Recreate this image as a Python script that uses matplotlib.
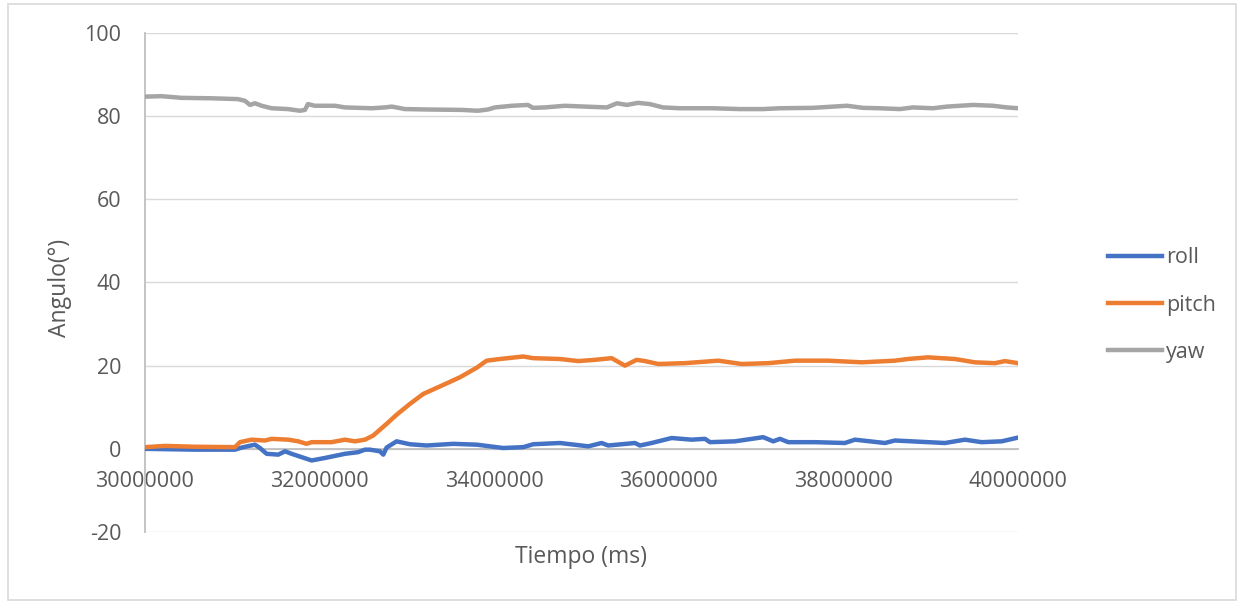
import matplotlib
matplotlib.use("Agg")
import matplotlib.pyplot as plt
from matplotlib.patches import Rectangle

plt.rcParams["font.family"] = ["Open Sans", "DejaVu Sans"]
plt.rcParams["axes.unicode_minus"] = False

# time (ms) and angle (deg)
roll_t = [30000000, 30573000, 31031000, 31108000, 31260000, 31317000, 31394000,
          31527000, 31604000, 31680000, 31795000, 31909000, 32062000, 32291000,
          32443000, 32520000, 32577000, 32692000, 32730000, 32768000, 32883000,
          33035000, 33227000, 33532000, 33800000, 34104000, 34333000, 34448000,
          34754000, 35078000, 35231000, 35307000, 35613000, 35670000, 35804000,
          36033000, 36262000, 36415000, 36472000, 36758000, 37082000, 37197000,
          37274000, 37369000, 37675000, 38018000, 38133000, 38476000, 38591000,
          38782000, 39164000, 39393000, 39584000, 39813000, 40000000]
roll = [0.0, -0.2, -0.2, 0.3, 1.0, 0.2, -1.2,
        -1.4, -0.6, -1.2, -2.0, -2.8, -2.2, -1.2,
        -0.8, -0.2, -0.2, -0.6, -1.4, 0.3, 1.8,
        1.1, 0.8, 1.2, 1.0, 0.2, 0.4, 1.1,
        1.4, 0.6, 1.4, 0.8, 1.4, 0.8, 1.4,
        2.6, 2.2, 2.4, 1.6, 1.8, 2.8, 1.8,
        2.4, 1.6, 1.6, 1.4, 2.2, 1.4, 2.0,
        1.8, 1.4, 2.2, 1.6, 1.8, 2.7]

pitch_t = [30000000, 30229000, 30573000, 31031000, 31088000, 31222000, 31375000,
           31451000, 31641000, 31756000, 31852000, 31909000, 32139000, 32291000,
           32405000, 32520000, 32615000, 32768000, 32883000, 33035000, 33188000,
           33379000, 33608000, 33800000, 33914000, 34066000, 34333000, 34448000,
           34754000, 34963000, 35155000, 35346000, 35498000, 35632000, 35727000,
           35880000, 36186000, 36567000, 36835000, 37140000, 37446000, 37824000,
           38213000, 38591000, 38740000, 38969000, 39278000, 39508000, 39737000,
           39851000, 40000000]
pitch = [0.4, 0.7, 0.5, 0.4, 1.6, 2.2, 2.0,
         2.4, 2.2, 1.8, 1.2, 1.6, 1.6, 2.2,
         1.8, 2.2, 3.2, 6.0, 8.2, 10.8, 13.2,
         15.0, 17.2, 19.5, 21.2, 21.6, 22.2, 21.8,
         21.6, 21.1, 21.4, 21.8, 20.0, 21.4, 21.1,
         20.4, 20.6, 21.2, 20.4, 20.6, 21.2, 21.2,
         20.8, 21.2, 21.6, 22.0, 21.6, 20.8, 20.6,
         21.1, 20.6]

yaw_t = [30000000, 30191000, 30420000, 30764000, 31065000, 31145000, 31203000,
         31260000, 31337000, 31451000, 31638000, 31776000, 31833000, 31867000,
         31947000, 32176000, 32291000, 32600000, 32749000, 32829000, 32978000,
         33242000, 33631000, 33814000, 33929000, 34009000, 34204000, 34387000,
         34444000, 34582000, 34811000, 35040000, 35292000, 35407000, 35521000,
         35647000, 35785000, 35934000, 36128000, 36506000, 36816000, 37079000,
         37274000, 37652000, 38041000, 38224000, 38419000, 38648000, 38797000,
         39026000, 39187000, 39485000, 39714000, 39874000, 40000000]
yaw = [84.7, 84.8, 84.4, 84.3, 84.1, 83.7, 82.7,
       83.1, 82.5, 81.9, 81.7, 81.3, 81.5, 82.9,
       82.5, 82.5, 82.1, 81.9, 82.1, 82.3, 81.7,
       81.6, 81.5, 81.3, 81.6, 82.1, 82.5, 82.7,
       82.0, 82.1, 82.5, 82.3, 82.1, 83.1, 82.7,
       83.2, 82.9, 82.1, 81.9, 81.9, 81.7, 81.7,
       81.9, 82.0, 82.5, 82.0, 81.9, 81.7, 82.1,
       81.9, 82.3, 82.7, 82.5, 82.1, 81.9]

x_ticks = [30000000, 32000000, 34000000, 36000000, 38000000, 40000000]
y_ticks = [-20, 0, 20, 40, 60, 80, 100]

TXT = "#595959"

fig = plt.figure(figsize=(12.42, 6.02), dpi=100)
ax = fig.add_axes([0.1167, 0.1163, 0.8196 - 0.1167, 0.9452 - 0.1163])

ax.plot(roll_t, roll, color="#4472C4", lw=3.2, label="roll", zorder=3)
ax.plot(pitch_t, pitch, color="#ED7D31", lw=3.2, label="pitch", zorder=3)
ax.plot(yaw_t, yaw, color="#A5A5A5", lw=3.2, label="yaw", zorder=3)

ax.set_xlim(30000000, 40000000)
ax.set_ylim(-20, 100)
ax.set_xticks(x_ticks)
ax.set_xticklabels([str(v) for v in x_ticks])
ax.set_yticks(y_ticks)
ax.grid(axis="y", color="#d9d9d9", lw=1.0)
ax.set_axisbelow(True)

for s in ("top", "right"):
    ax.spines[s].set_visible(False)
ax.spines["bottom"].set_position(("data", 0))
ax.spines["bottom"].set_color("#bfbfbf")
ax.spines["bottom"].set_linewidth(1.3)
ax.spines["left"].set_color("#bfbfbf")
ax.spines["left"].set_linewidth(1.3)
ax.tick_params(length=0, labelsize=15.5, labelcolor=TXT)
ax.tick_params(axis="y", pad=17)
ax.tick_params(axis="x", pad=16)

ax.set_ylabel("Angulo(°)", fontsize=16.5, color=TXT)
ax.yaxis.set_label_coords(-0.083, 0.49)
ax.set_xlabel("Tiempo (ms)", fontsize=16.5, color=TXT)
ax.xaxis.set_label_coords(0.5, -0.026)

fig.legend(loc="center left", bbox_to_anchor=(0.892, 0.493), frameon=False,
           fontsize=15.5, handlelength=2.5, handletextpad=0.22,
           labelspacing=1.22, borderpad=0, borderaxespad=0, labelcolor=TXT)

fig.patches.append(Rectangle((8 / 1242, 2 / 602), 1228 / 1242, 596 / 602,
                             transform=fig.transFigure, fill=False,
                             edgecolor="#d9d9d9", lw=1.2))

fig.savefig("out.png", dpi=100)
